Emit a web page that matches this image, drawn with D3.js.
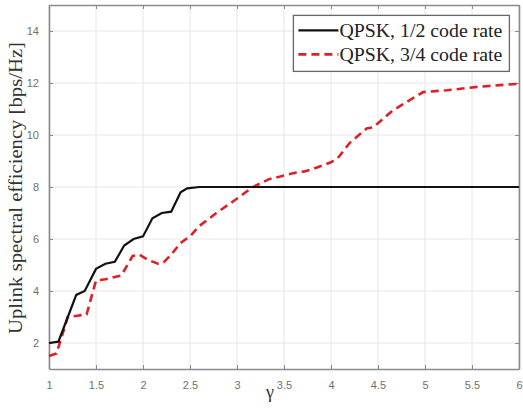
<!DOCTYPE html>
<html>
<head>
<meta charset="utf-8">
<script src="https://cdn.jsdelivr.net/npm/d3@7"></script>
<style>
  body { margin: 0; background: #fff; }
  svg { display: block; }
</style>
</head>
<body>
<div id="chart"></div>
<script>
// QPSK, 1/2 code rate
const gammaHalf = [1, 1.1, 1.2, 1.29, 1.38, 1.5, 1.6, 1.7, 1.8, 1.9, 2.0, 2.1, 2.2, 2.3, 2.4, 2.47, 2.6, 3, 4, 5, 6];
const effHalf = [2.0, 2.05, 3.0, 3.85, 4.0, 4.85, 5.05, 5.12, 5.75, 6.0, 6.1, 6.8, 7.0, 7.05, 7.8, 7.95, 8.0, 8, 8, 8, 8];

// QPSK, 3/4 code rate
const gammaThreeQ = [1, 1.08, 1.2, 1.3, 1.4, 1.5, 1.6, 1.77, 1.89, 1.96, 2.05, 2.16, 2.22, 2.3, 2.4, 2.5, 2.6, 2.78, 2.96, 3.17, 3.34, 3.46, 3.62, 3.72, 3.81, 4.0, 4.07, 4.2, 4.38, 4.45, 4.66, 4.98, 5.23, 5.58, 6.0];
const effThreeQ = [1.5, 1.6, 3.0, 3.05, 3.1, 4.4, 4.45, 4.6, 5.35, 5.4, 5.2, 5.05, 5.1, 5.4, 5.85, 6.1, 6.5, 7.0, 7.45, 8.0, 8.3, 8.4, 8.55, 8.6, 8.7, 8.95, 9.1, 9.7, 10.25, 10.3, 10.95, 11.65, 11.72, 11.86, 11.97];

const xTicks = [1, 1.5, 2, 2.5, 3, 3.5, 4, 4.5, 5, 5.5, 6];
const yTicks = [2, 4, 6, 8, 10, 12, 14];
const legendLabels = ['QPSK, 1/2 code rate', 'QPSK, 3/4 code rate'];

const W = 523, H = 415;
const margin = { top: 5, right: 4, bottom: 46, left: 49 };
const width = W - margin.left - margin.right;
const height = H - margin.top - margin.bottom;
const serif = '"Liberation Serif", "DejaVu Serif", "Times New Roman", serif';

const svg = d3.select('#chart')
  .append('svg')
  .attr('width', W)
  .attr('height', H)
  .append('g')
  .attr('transform', `translate(${margin.left},${margin.top})`);

const x = d3.scaleLinear().domain([1, 6]).range([0, width]);
const y = d3.scaleLinear().domain([1, 15]).range([height, 0]);

// Grid
svg.append('g')
  .selectAll('line')
  .data(xTicks)
  .join('line')
  .attr('x1', d => x(d)).attr('x2', d => x(d))
  .attr('y1', 0).attr('y2', height)
  .attr('stroke', '#e6e6e6');

svg.append('g')
  .selectAll('line')
  .data(yTicks)
  .join('line')
  .attr('x1', 0).attr('x2', width)
  .attr('y1', d => y(d)).attr('y2', d => y(d))
  .attr('stroke', '#e6e6e6');

// Axes (ticks inward, box on)
const axisColor = '#8a8a8a';
const axBottom = svg.append('g')
  .attr('transform', `translate(0,${height})`)
  .call(d3.axisBottom(x).tickValues(xTicks).tickSizeInner(-4).tickSizeOuter(0).tickPadding(12).tickFormat(d3.format('')));
const axLeft = svg.append('g')
  .call(d3.axisLeft(y).tickValues(yTicks).tickSizeInner(-4).tickSizeOuter(0).tickPadding(10));
const axTop = svg.append('g')
  .call(d3.axisTop(x).tickValues(xTicks).tickSizeInner(-4).tickSizeOuter(0).tickFormat(''));
const axRight = svg.append('g')
  .attr('transform', `translate(${width},0)`)
  .call(d3.axisRight(y).tickValues(yTicks).tickSizeInner(-4).tickSizeOuter(0).tickFormat(''));

[axBottom, axLeft, axTop, axRight].forEach(g => {
  g.select('.domain').attr('stroke', axisColor).attr('stroke-width', 1.6);
  g.selectAll('.tick line').attr('stroke', axisColor);
  g.selectAll('.tick text')
    .attr('fill', '#6f6f6f')
    .style('font-family', 'Arial, "Liberation Sans", sans-serif')
    .style('font-size', '11px');
});

// Lines
const line = d3.line()
  .x(d => x(d[0]))
  .y(d => y(d[1]));

svg.append('path')
  .datum(d3.zip(gammaThreeQ, effThreeQ))
  .attr('fill', 'none')
  .attr('stroke', '#df1f26')
  .attr('stroke-width', 2.6)
  .attr('stroke-dasharray', '8,5')
  .attr('d', line);

svg.append('path')
  .datum(d3.zip(gammaHalf, effHalf))
  .attr('fill', 'none')
  .attr('stroke', '#111')
  .attr('stroke-width', 2.2)
  .attr('d', line);

// Axis labels
svg.append('text')
  .attr('transform', 'rotate(-90)')
  .attr('x', -(188 - margin.top))
  .attr('y', -margin.left + 22)
  .attr('text-anchor', 'middle')
  .attr('fill', '#333')
  .attr('textLength', 292)
  .attr('lengthAdjust', 'spacingAndGlyphs')
  .style('font-family', serif)
  .style('font-size', '18px')
  .text('Uplink spectral efficiency [bps/Hz]');

svg.append('text')
  .attr('x', x(3.5) - 14)
  .attr('y', height + 29)
  .attr('text-anchor', 'middle')
  .attr('fill', '#333')
  .style('font-family', serif)
  .style('font-size', '18px')
  .text('γ');

// Legend
const legend = svg.append('g')
  .attr('transform', `translate(${x(3.60)},${y(14.6)})`);

legend.append('rect')
  .attr('width', 216)
  .attr('height', 56)
  .attr('fill', '#fff')
  .attr('stroke', '#666')
  .attr('stroke-width', 1.3);

const items = legend.selectAll('.item')
  .data(legendLabels)
  .join('g')
  .attr('class', 'item')
  .attr('transform', (d, i) => `translate(0,${15 + i * 24})`);

items.append('line')
  .attr('x1', 5).attr('x2', 45)
  .attr('stroke', (d, i) => i === 0 ? '#111' : '#df1f26')
  .attr('stroke-width', (d, i) => i === 0 ? 2.2 : 2.6)
  .attr('stroke-dasharray', (d, i) => i === 0 ? null : '8,5');

items.append('text')
  .attr('x', 46)
  .attr('dy', '0.35em')
  .attr('fill', '#222')
  .attr('textLength', 163)
  .attr('lengthAdjust', 'spacingAndGlyphs')
  .style('font-family', serif)
  .style('font-size', '18px')
  .text(d => d);
</script>
</body>
</html>
